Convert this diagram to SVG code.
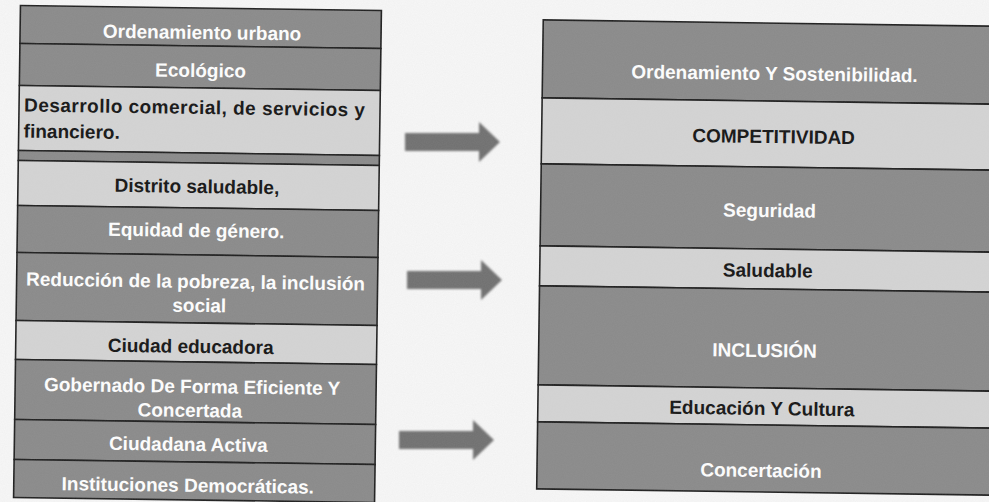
<svg xmlns="http://www.w3.org/2000/svg" width="989" height="502" viewBox="0 0 989 502">
<defs>
<style>
.dark{fill:#8a8a8a;stroke:#1e1e1e;stroke-width:1.6}
.light{fill:#d4d4d4;stroke:#1e1e1e;stroke-width:1.6}
text{font-family:"Liberation Sans",Arial,sans-serif;font-weight:bold;font-size:19px}
.w{fill:#ffffff}
.b{fill:#141414}
.c{text-anchor:middle}
.arrow{fill:#707070;filter:url(#soft)}
</style>
<filter id="soft" x="-20%" y="-50%" width="140%" height="200%">
<feGaussianBlur stdDeviation="1.2"/>
</filter>
<filter id="grain" x="0" y="0" width="100%" height="100%">
<feTurbulence type="fractalNoise" baseFrequency="0.9" numOctaves="2" seed="3"/>
<feColorMatrix type="matrix" values="0 0 0 0 0.5  0 0 0 0 0.5  0 0 0 0 0.5  0 0 0 0.35 0"/>
</filter>
<path id="blk" d="M0,-9 H74 V-20 L95,0 L74,20 V9 H0 Z"/>
</defs>
<rect width="989" height="502" fill="#f7f7f7"/>

<g id="left-table" transform="rotate(0.8 197 254)">
<g id="l1"><rect class="dark" x="17" y="8" width="361" height="38"/><text class="w c" x="199" y="39">Ordenamiento urbano</text></g>
<g id="l2"><rect class="dark" x="17" y="46" width="361" height="42"/><text class="w c" x="198" y="77">Ecológico</text></g>
<g id="l3"><rect class="light" x="17" y="88" width="361" height="65"/><text class="b" x="22" y="114" textLength="341" lengthAdjust="spacing">Desarrollo comercial, de servicios  y</text><text class="b" x="22" y="140">financiero.</text></g>
<g id="l4"><rect class="dark" x="17" y="153" width="361" height="10"/></g>
<g id="l5"><rect class="light" x="17" y="163" width="361" height="45"/><text class="b c" x="196" y="193">Distrito saludable,</text></g>
<g id="l6"><rect class="dark" x="17" y="208" width="361" height="47"/><text class="w c" x="196" y="237">Equidad de género.</text></g>
<g id="l7"><rect class="dark" x="17" y="255" width="361" height="68"/><text class="w c" x="196" y="288">Reducción de la pobreza, la inclusión</text><text class="w c" x="200" y="312">social</text></g>
<g id="l8"><rect class="light" x="17" y="323" width="361" height="39"/><text class="b c" x="192" y="353">Ciudad educadora</text></g>
<g id="l9"><rect class="dark" x="17" y="362" width="361" height="60"/><text class="w c" x="194" y="393">Gobernado De Forma Eficiente Y</text><text class="w c" x="192" y="417">Concertada</text></g>
<g id="l10"><rect class="dark" x="17" y="422" width="361" height="40"/><text class="w c" x="191" y="451">Ciudadana Activa</text></g>
<g id="l11"><rect class="dark" x="17" y="462" width="361" height="38"/><text class="w c" x="191" y="492">Instituciones Democráticas.</text></g>
</g>

<g id="right-table" transform="rotate(0.8 764 254)">
<g id="r1"><rect class="dark" x="540" y="23" width="455" height="78"/><text class="w c" x="772" y="80">Ordenamiento Y Sostenibilidad.</text></g>
<g id="r2"><rect class="light" x="540" y="101" width="455" height="66"/><text class="b c" x="772" y="143">COMPETITIVIDAD</text></g>
<g id="r3"><rect class="dark" x="540" y="167" width="455" height="82"/><text class="w c" x="769" y="217">Seguridad</text></g>
<g id="r4"><rect class="light" x="540" y="249" width="455" height="40"/><text class="b c" x="768" y="277">Saludable</text></g>
<g id="r5"><rect class="dark" x="540" y="289" width="455" height="99"/><text class="w c" x="766" y="357">INCLUSIÓN</text></g>
<g id="r6"><rect class="light" x="540" y="388" width="455" height="37"/><text class="b c" x="764" y="415">Educación Y Cultura</text></g>
<g id="r7"><rect class="dark" x="540" y="425" width="455" height="67"/><text class="w c" x="764" y="477">Concertación</text></g>
</g>

<g id="connectors">
<use href="#blk" class="arrow" transform="translate(405 142)"/>
<use href="#blk" class="arrow" transform="translate(407 280)"/>
<use href="#blk" class="arrow" transform="translate(399 440)"/>
</g>

<rect width="989" height="502" filter="url(#grain)" opacity="0.3"/>
</svg>
